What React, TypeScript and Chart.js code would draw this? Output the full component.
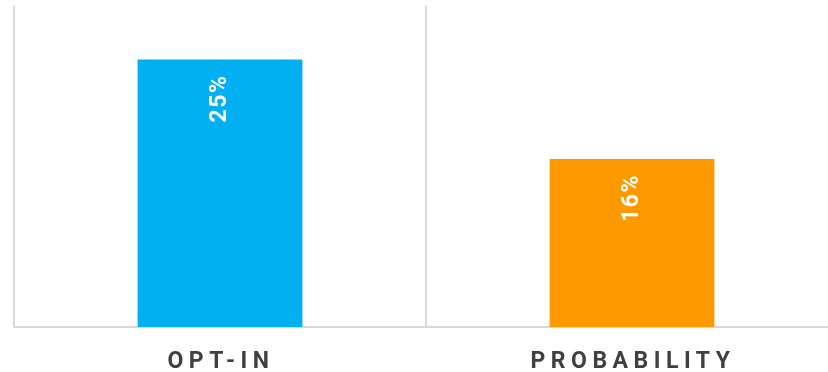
import React, { useEffect, useRef } from "react";
import { Chart, registerables } from "chart.js";

Chart.register(...registerables);

const categories = ["OPT-IN", "PROBABILITY"];
const values = [25, 15.7];
const barColors = ["#00B0F0", "#FF9900"];
const valueLabels = ["25%", "16%"];

const labelPlugin = {
  id: "customLabels",
  afterDatasetsDraw(chart: any) {
    const ctx = chart.ctx;
    const meta = chart.getDatasetMeta(0);
    ctx.save();
    ctx.fillStyle = "#ffffff";
    ctx.font = "bold 23px Roboto";
    (ctx as any).letterSpacing = "1.5px";
    ctx.textAlign = "right";
    ctx.textBaseline = "middle";
    meta.data.forEach((bar: any, i: number) => {
      ctx.save();
      ctx.translate(bar.x, bar.y + 15);
      ctx.rotate(-Math.PI / 2);
      ctx.fillText(valueLabels[i], 0, 0);
      ctx.restore();
    });
    ctx.restore();
  },
  afterDraw(chart: any) {
    const ctx = chart.ctx;
    const xScale = chart.scales.x;
    ctx.save();
    ctx.fillStyle = "#404040";
    ctx.font = "bold 23px Roboto";
    (ctx as any).letterSpacing = "5.5px";
    ctx.textAlign = "center";
    ctx.textBaseline = "alphabetic";
    categories.forEach((c, i) => {
      const x = xScale.getPixelForValue(i);
      ctx.fillText(c, x + 1, chart.chartArea.bottom + 41);
    });
    ctx.restore();
  },
};

export default function App() {
  const ref = useRef<HTMLCanvasElement>(null);
  useEffect(() => {
    document.body.style.margin = "0";
    const chart = new Chart(ref.current!, {
      type: "bar",
      data: {
        labels: categories,
        datasets: [
          {
            data: values,
            backgroundColor: barColors,
            barPercentage: 0.8,
            categoryPercentage: 0.5,
          },
        ],
      },
      options: {
        responsive: false,
        animation: false,
        layout: { padding: { left: 14, right: 2, top: 6, bottom: 45 } },
        plugins: { legend: { display: false }, tooltip: { enabled: false } },
        scales: {
          x: {
            ticks: { display: false },
            grid: {
              offset: true,
              color: "#d9d9d9",
              lineWidth: 2,
              drawTicks: false,
            },
            border: { display: true, color: "#d9d9d9", width: 2 },
          },
          y: {
            display: false,
            min: 0,
            max: 30,
          },
        },
      },
      plugins: [labelPlugin],
    });
    return () => chart.destroy();
  }, []);
  return (
    <div style={{ position: "absolute", left: 0, top: 0, width: 828, height: 372, overflow: "hidden", background: "#fff" }}>
      <canvas ref={ref} width={840} height={372} style={{ width: 840, height: 372 }} />
    </div>
  );
}
